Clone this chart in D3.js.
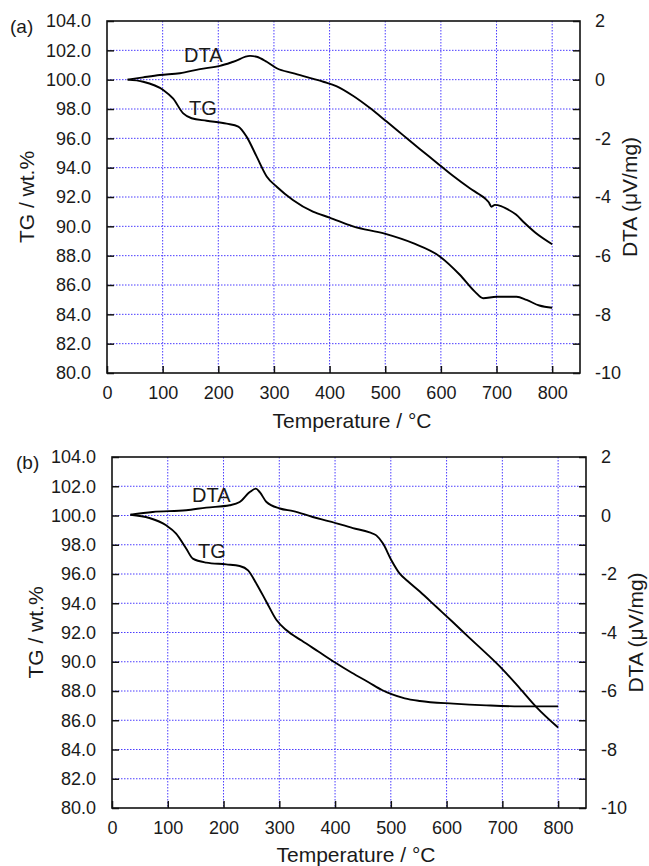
<!DOCTYPE html>
<html><head><meta charset="utf-8">
<script src="https://cdn.jsdelivr.net/npm/d3@7"></script>
<style>body{margin:0;background:#fff}svg{display:block}text{font-family:"Liberation Sans",Arial,sans-serif;fill:#1a1a1a}</style>
</head><body>
<script>
// ---- data ----
const xTicks = [0,100,200,300,400,500,600,700,800];
const tgTicks = [80,82,84,86,88,90,92,94,96,98,100,102,104];
const dtaTicks = [-10,-8,-6,-4,-2,0,2];

// panel (a)
const aTG_T   = [37,65,101,119,137,152,179,215,236,251,269,287,305,334,370,400,442,499,550,598,634,661,676,700,736,754,777,800];
const aTG_V   = [100,99.86,99.3,98.7,97.7,97.37,97.2,97.0,96.8,96.1,94.75,93.4,92.7,91.8,91.0,90.6,90.0,89.5,88.85,87.95,86.7,85.55,85.1,85.2,85.2,84.98,84.6,84.45];
const aDTA_T  = [37,65,95,131,167,203,227,257,269,287,305,334,364,390,412,442,472,502,532,562,592,621,652,668,680,686,691,697,708,718,735,750,770,800];
const aDTA_V  = [0,0.08,0.16,0.22,0.36,0.47,0.61,0.81,0.78,0.61,0.39,0.22,0.06,-0.08,-0.22,-0.55,-0.96,-1.42,-1.89,-2.36,-2.82,-3.27,-3.70,-3.9,-4.06,-4.18,-4.33,-4.27,-4.31,-4.40,-4.6,-4.88,-5.22,-5.61];

// panel (b)
const bTG_T   = [33,67,97,115,133,145,169,205,229,244,259,277,295,313,340,370,400,430,460,485,500,525,552,612,671,731,800];
const bTG_V   = [100.05,99.83,99.33,98.76,97.74,97.05,96.78,96.66,96.55,96.25,95.34,94.09,92.85,92.15,91.45,90.7,89.95,89.25,88.6,88.05,87.8,87.5,87.32,87.14,87.02,86.95,86.95];
const bDTA_T  = [33,73,133,169,211,229,247,258,265,277,301,325,360,390,432,462,474,486,501,516,530,552,582,612,642,672,700,731,761,800];
const bDTA_V  = [0.03,0.12,0.18,0.27,0.35,0.46,0.8,0.92,0.8,0.46,0.24,0.15,-0.05,-0.2,-0.43,-0.58,-0.68,-0.96,-1.53,-1.99,-2.24,-2.6,-3.13,-3.66,-4.2,-4.73,-5.25,-5.9,-6.55,-7.25];

const W = 649, H = 866;
const svg = d3.select("body").append("svg").attr("width", W).attr("height", H);

function panel(cfg){
  const g = svg.append("g");
  const x = d3.scaleLinear().domain([0,850]).range([cfg.left, cfg.right]);
  const yL = d3.scaleLinear().domain([80,104]).range([cfg.bottom, cfg.top]);
  const yR = d3.scaleLinear().domain([-10,2]).range([cfg.bottom, cfg.top]);
  const gridCol = "#4b3cff";
  // grid
  g.append("g").selectAll("line").data(xTicks.filter(d=>d>0)).join("line")
    .attr("x1",d=>x(d)).attr("x2",d=>x(d)).attr("y1",cfg.top).attr("y2",cfg.bottom)
    .attr("stroke",gridCol).attr("stroke-width",1).attr("stroke-dasharray","1.5,1.5");
  g.append("g").selectAll("line").data(tgTicks.filter(d=>d>80&&d<104)).join("line")
    .attr("x1",cfg.left).attr("x2",cfg.right).attr("y1",d=>yL(d)).attr("y2",d=>yL(d))
    .attr("stroke",gridCol).attr("stroke-width",1).attr("stroke-dasharray","1.5,1.5");
  // axes
  const fs = "18px";
  const ax = g.append("g").attr("transform",`translate(0,${cfg.bottom})`)
    .call(d3.axisBottom(x).tickValues(xTicks).tickSizeInner(-7).tickSizeOuter(0).tickPadding(13).tickFormat(d3.format("d")));
  const ayL = g.append("g").attr("transform",`translate(${cfg.left},0)`)
    .call(d3.axisLeft(yL).tickValues(tgTicks).tickSizeInner(-7).tickSizeOuter(0).tickPadding(16).tickFormat(d3.format(".1f")));
  const ayR = g.append("g").attr("transform",`translate(${cfg.right},0)`)
    .call(d3.axisRight(yR).tickValues(d3.range(-10,3,1)).tickSizeInner(-7).tickSizeOuter(0).tickPadding(15)
      .tickFormat(d=> dtaTicks.includes(d) ? d3.format("d")(d).replace("−","-") : ""));
  [ax,ayL,ayR].forEach(a=>{
    a.select(".domain").remove();
    a.selectAll("line").attr("stroke","#111").attr("stroke-width",1.5);
    a.selectAll("text").style("font-size",fs).style("font-family","Liberation Sans, Arial, sans-serif").attr("fill","#1a1a1a");
  });
  // frame
  g.append("rect").attr("x",cfg.left).attr("y",cfg.top).attr("width",cfg.right-cfg.left).attr("height",cfg.bottom-cfg.top)
    .attr("fill","none").attr("stroke","#111").attr("stroke-width",1.6);
  // lines
  const lineL = d3.line().x(d=>x(d[0])).y(d=>yL(d[1])).curve(d3.curveMonotoneX);
  const lineR = d3.line().x(d=>x(d[0])).y(d=>yR(d[1])).curve(d3.curveMonotoneX);
  g.append("path").datum(d3.zip(cfg.tgT,cfg.tgV)).attr("d",lineL).attr("fill","none").attr("stroke","#000").attr("stroke-width",1.9);
  g.append("path").datum(d3.zip(cfg.dtaT,cfg.dtaV)).attr("d",lineR).attr("fill","none").attr("stroke","#000").attr("stroke-width",1.9);
  // labels
  g.append("text").attr("x",cfg.dtaLbl[0]).attr("y",cfg.dtaLbl[1]).style("font-size","20px").text("DTA");
  g.append("text").attr("x",cfg.tgLbl[0]).attr("y",cfg.tgLbl[1]).style("font-size","20px").text("TG");
  g.append("text").attr("x",cfg.tag[0]).attr("y",cfg.tag[1]).style("font-size","19px").text(cfg.tagText);
  g.append("text").attr("x",cfg.xTitle[0]).attr("y",cfg.xTitle[1]).attr("text-anchor","middle").style("font-size","21px").text("Temperature / °C");
  g.append("text").attr("transform",`translate(${cfg.yLx},${(cfg.top+cfg.bottom)/2}) rotate(-90)`).attr("text-anchor","middle").style("font-size","21px").text("TG / wt.%");
  g.append("text").attr("transform",`translate(${cfg.yRx},${(cfg.top+cfg.bottom)/2}) rotate(-90)`).attr("text-anchor","middle").style("font-size","21px").text("DTA (μV/mg)");
}

panel({left:107,right:580,top:21,bottom:373,tgT:aTG_T,tgV:aTG_V,dtaT:aDTA_T,dtaV:aDTA_V,
  dtaLbl:[184,62],tgLbl:[189,115],tag:[10,33],tagText:"(a)",xTitle:[352,428],yLx:34,yRx:637});
panel({left:112,right:586,top:457,bottom:808,tgT:bTG_T,tgV:bTG_V,dtaT:bDTA_T,dtaV:bDTA_V,
  dtaLbl:[192,502],tgLbl:[198,558],tag:[16,469],tagText:"(b)",xTitle:[356,862],yLx:43,yRx:643});
</script>
</body></html>
